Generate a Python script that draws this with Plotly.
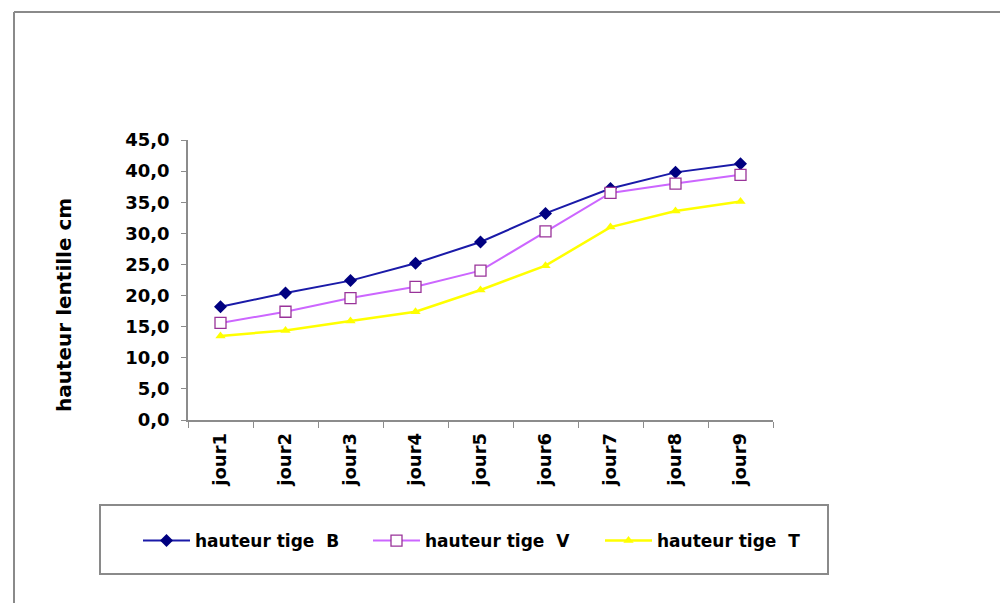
import plotly.graph_objects as go

categories = ["jour1", "jour2", "jour3", "jour4", "jour5", "jour6", "jour7", "jour8", "jour9"]
serie_B = [18.2, 20.4, 22.4, 25.2, 28.6, 33.2, 37.2, 39.8, 41.2]
serie_V = [15.6, 17.4, 19.6, 21.4, 24.0, 30.3, 36.5, 38.0, 39.4]
serie_T = [13.5, 14.4, 15.9, 17.4, 20.9, 24.8, 31.0, 33.6, 35.1]
series_names = ["hauteur tige  B", "hauteur tige  V", "hauteur tige  T"]
y_title = "hauteur lentille cm"
y_ticks = [0, 5, 10, 15, 20, 25, 30, 35, 40, 45]
y_ticklabels = ["0,0", "5,0", "10,0", "15,0", "20,0", "25,0", "30,0", "35,0", "40,0", "45,0"]

W, H = 1008, 603
OFF = 8  # page body margin
L, R, T, B = 188 - OFF, 773 - OFF, 140 - OFF, 420 - OFF

def px(x):
    return (x - OFF - L) / (R - L)

def py(y):
    return (B - (y - OFF)) / (B - T)

font_family = "DejaVu Sans, Liberation Sans, Arial, sans-serif"
bold = dict(family=font_family, weight="bold", color="black")

fig = go.Figure()
fig.add_trace(go.Scatter(
    x=categories, y=serie_B, name=series_names[0], mode="lines+markers", legend="legend",
    line=dict(color="#1a1aa8", width=2),
    marker=dict(symbol="diamond", size=10, color="#000080"),
))
fig.add_trace(go.Scatter(
    x=categories, y=serie_V, name=series_names[1], mode="lines+markers", legend="legend2",
    line=dict(color="#cc66ff", width=2),
    marker=dict(symbol="square", size=11, color="white", line=dict(color="#993399", width=1.3)),
))
fig.add_trace(go.Scatter(
    x=categories, y=serie_T, name=series_names[2], mode="lines+markers", legend="legend3",
    line=dict(color="#ffff00", width=2.5),
    marker=dict(symbol="triangle-up", size=9, color="#ffff00"),
))

def legend_at(x_screen):
    return dict(
        orientation="h", xref="container", yref="container",
        x=(x_screen - OFF) / W, y=1 - (541 - OFF) / H, xanchor="left", yanchor="middle",
        bgcolor="rgba(0,0,0,0)", borderwidth=0, itemwidth=47,
        font=dict(size=17, **bold),
    )

fig.update_layout(
    width=W, height=H,
    margin=dict(l=L, r=W - R, t=T, b=H - B, pad=0),
    paper_bgcolor="white", plot_bgcolor="white",
    font=dict(family=font_family, size=17, color="black"),
    showlegend=True,
    legend=legend_at(138),
    legend2=legend_at(368),
    legend3=legend_at(600),
    xaxis=dict(
        type="category", range=[-0.5, 8.5], showgrid=False,
        showline=True, linecolor="#8c8c8c", linewidth=1.5,
        ticks="outside", tickson="boundaries", ticklen=6, tickcolor="#8c8c8c",
        tickangle=-90, tickfont=dict(size=18, **bold), ticklabelstandoff=4,
    ),
    yaxis=dict(
        range=[0, 45], tickvals=y_ticks, ticktext=y_ticklabels, showgrid=False,
        showline=True, linecolor="#8c8c8c", linewidth=1.5,
        ticks="outside", ticklen=5, tickcolor="#8c8c8c",
        tickfont=dict(size=18, **bold), ticklabelstandoff=8,
        zeroline=False,
    ),
    annotations=[
        dict(text=y_title, textangle=-90, xref="paper", yref="paper",
             x=px(64), y=py(305), xanchor="center", yanchor="middle",
             showarrow=False, font=dict(size=20, **bold)),
    ],
    shapes=[
        dict(type="line", xref="paper", yref="paper", x0=px(14), x1=px(1016), y0=py(12), y1=py(12),
             line=dict(color="#8a8a8a", width=2)),
        dict(type="line", xref="paper", yref="paper", x0=px(14), x1=px(14), y0=py(12), y1=py(612),
             line=dict(color="#8a8a8a", width=2)),
        dict(type="rect", xref="paper", yref="paper", x0=px(100), x1=px(828), y0=py(505), y1=py(574),
             line=dict(color="#8a8a8a", width=2), fillcolor="rgba(0,0,0,0)"),
    ],
)

fig.write_html("out.html")
